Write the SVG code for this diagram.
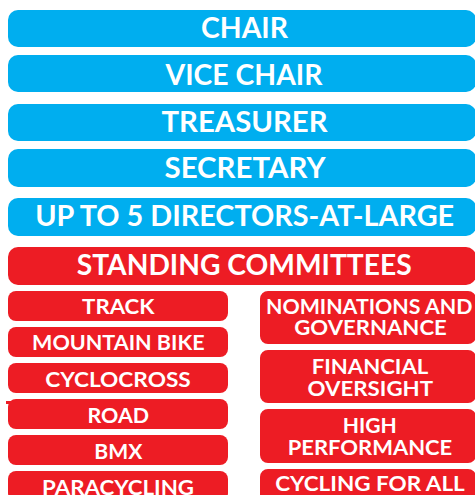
<svg xmlns="http://www.w3.org/2000/svg" width="475" height="495" viewBox="0 0 475 495">
<style>
.b{fill:#00AEEF}
.r{fill:#ED1C24}
text{font-family:Lato,"Open Sans","Liberation Sans",sans-serif;font-weight:700;fill:#fff;text-anchor:middle}
.t1{font-size:28px}
.t2{font-size:20px}
</style>
<rect width="475" height="495" fill="#fff"/>
<g id="chair"><rect class="b" x="8" y="10" width="468" height="37" rx="10"/><text class="t1" x="244.5" y="38" textLength="87" lengthAdjust="spacingAndGlyphs">CHAIR</text></g>
<g id="vice-chair"><rect class="b" x="8" y="55" width="468" height="37" rx="10"/><text class="t1" x="244" y="85" textLength="157" lengthAdjust="spacingAndGlyphs">VICE CHAIR</text></g>
<g id="treasurer"><rect class="b" x="8" y="104" width="468" height="37" rx="10"/><text class="t1" x="244.5" y="132.3" textLength="166" lengthAdjust="spacingAndGlyphs">TREASURER</text></g>
<g id="secretary"><rect class="b" x="8" y="149" width="468" height="38" rx="10"/><text class="t1" x="245" y="178.3" textLength="161" lengthAdjust="spacingAndGlyphs">SECRETARY</text></g>
<g id="directors"><rect class="b" x="8" y="198" width="468" height="38" rx="10"/><text class="t1" x="244.7" y="226" textLength="419" lengthAdjust="spacingAndGlyphs">UP TO 5 DIRECTORS-AT-LARGE</text></g>
<g id="standing"><rect class="r" x="8" y="247" width="468" height="38" rx="10"/><text class="t1" x="244.2" y="275" textLength="335" lengthAdjust="spacingAndGlyphs">STANDING COMMITTEES</text></g>
<g id="track"><rect class="r" x="8" y="291" width="220" height="30" rx="8"/><text class="t2" x="118.3" y="314.3" textLength="72.5" lengthAdjust="spacingAndGlyphs">TRACK</text></g>
<g id="mountain-bike"><rect class="r" x="8" y="327" width="220" height="30" rx="8"/><text class="t2" x="118.3" y="350" textLength="172.5" lengthAdjust="spacingAndGlyphs">MOUNTAIN BIKE</text></g>
<g id="cyclocross"><rect class="r" x="8" y="363" width="220" height="30" rx="8"/><text class="t2" x="118" y="386.7" textLength="145.5" lengthAdjust="spacingAndGlyphs">CYCLOCROSS</text></g>
<g id="road"><rect class="r" x="6" y="401" width="5" height="3"/><rect class="r" x="8" y="399" width="220" height="30" rx="8"/><text class="t2" x="118.3" y="422.7" textLength="61.5" lengthAdjust="spacingAndGlyphs">ROAD</text></g>
<g id="bmx"><rect class="r" x="8" y="435" width="220" height="30" rx="8"/><text class="t2" x="118.3" y="459" textLength="48" lengthAdjust="spacingAndGlyphs">BMX</text></g>
<g id="paracycling"><rect class="r" x="8" y="471" width="220" height="30" rx="8"/><text class="t2" x="118" y="494.5" textLength="152" lengthAdjust="spacingAndGlyphs">PARACYCLING</text></g>
<g id="nominations"><rect class="r" x="260" y="291" width="216" height="53" rx="8"/><text class="t2" x="369.2" y="314.3" textLength="206.5" lengthAdjust="spacingAndGlyphs">NOMINATIONS AND</text><text class="t2" x="370.5" y="335" textLength="152.5" lengthAdjust="spacingAndGlyphs">GOVERNANCE</text></g>
<g id="financial"><rect class="r" x="260" y="350" width="216" height="53" rx="8"/><text class="t2" x="370" y="374" textLength="116.5" lengthAdjust="spacingAndGlyphs">FINANCIAL</text><text class="t2" x="370.3" y="395.7" textLength="125.5" lengthAdjust="spacingAndGlyphs">OVERSIGHT</text></g>
<g id="high-performance"><rect class="r" x="260" y="409" width="216" height="54" rx="8"/><text class="t2" x="369.7" y="433.3" textLength="54" lengthAdjust="spacingAndGlyphs">HIGH</text><text class="t2" x="370" y="455" textLength="164.5" lengthAdjust="spacingAndGlyphs">PERFORMANCE</text></g>
<g id="cycling-for-all"><rect class="r" x="260" y="469" width="216" height="36" rx="8"/><text class="t2" x="370" y="490.7" textLength="189.5" lengthAdjust="spacingAndGlyphs">CYCLING FOR ALL</text></g>
<g id="connectors"/>
</svg>
